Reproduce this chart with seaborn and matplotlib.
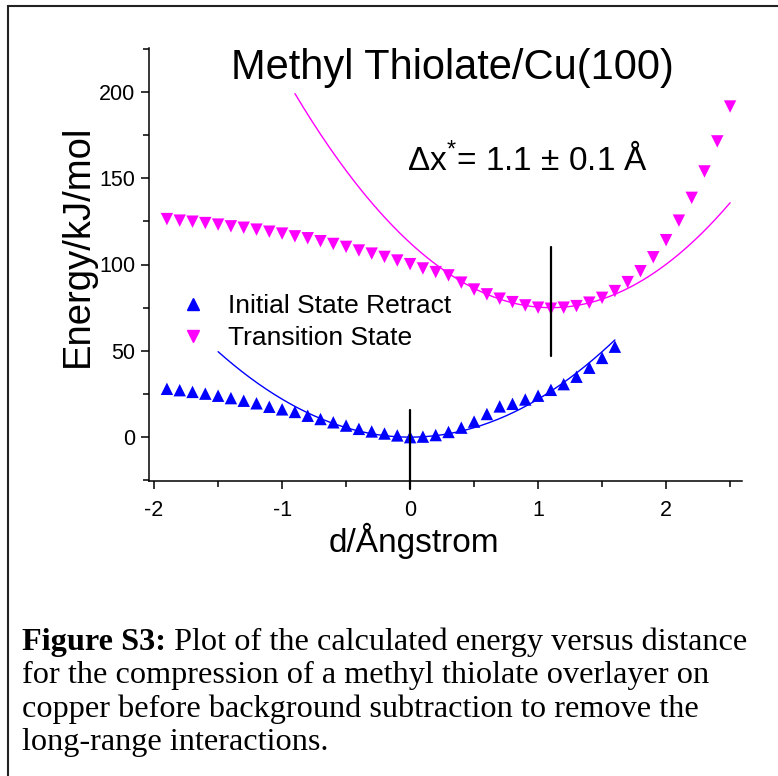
import numpy as np
import pandas as pd
import matplotlib
matplotlib.use("Agg")
import matplotlib.pyplot as plt
from matplotlib.lines import Line2D
from matplotlib.patches import Rectangle
import seaborn as sns

# ---------------- data ----------------
d_initial = [-1.9, -1.8, -1.7, -1.6, -1.5, -1.4, -1.3, -1.2, -1.1, -1.0, -0.9, -0.8,
             -0.7, -0.6, -0.5, -0.4, -0.3, -0.2, -0.1, 0.0, 0.1, 0.2, 0.3, 0.4,
             0.5, 0.6, 0.7, 0.8, 0.9, 1.0, 1.1, 1.2, 1.3, 1.4, 1.5, 1.6]
E_initial = [28.0, 27.2, 26.2, 25.2, 24.0, 22.6, 21.1, 19.6, 17.6, 16.1, 14.6, 12.4,
             10.5, 8.6, 6.7, 4.8, 3.3, 2.1, 1.0, 0.0, 0.3, 1.2, 3.0, 5.5,
             9.0, 13.4, 17.8, 19.3, 21.8, 24.0, 27.4, 30.7, 35.0, 40.2, 45.9, 52.4]

d_transition = [-1.9, -1.8, -1.7, -1.6, -1.5, -1.4, -1.3, -1.2, -1.1, -1.0, -0.9, -0.8,
                -0.7, -0.6, -0.5, -0.4, -0.3, -0.2, -0.1, 0.0, 0.1, 0.2, 0.3, 0.4,
                0.5, 0.6, 0.7, 0.8, 0.9, 1.0, 1.1, 1.2, 1.3, 1.4, 1.5, 1.6, 1.7,
                1.8, 1.9, 2.0, 2.1, 2.2, 2.3, 2.4, 2.5]
E_transition = [126.3, 125.4, 124.8, 124.0, 123.1, 122.1, 121.3, 120.2, 119.0, 117.9,
                116.3, 115.2, 113.5, 111.9, 110.2, 108.1, 106.3, 104.4, 102.3, 100.2,
                97.7, 95.6, 93.7, 89.5, 85.5, 82.7, 80.2, 78.2, 76.3, 75.0, 74.4,
                75.0, 75.9, 77.9, 80.7, 84.6, 89.8, 96.1, 104.2, 114.1, 125.4,
                138.6, 153.9, 171.3, 191.5]

series_names = ["Initial State Retract", "Transition State"]

# parabolic fits E = c + a (d - d0)^2 and their d ranges
fit_initial = dict(a=22.0, d0=0.0, c=0.0, d_range=(-1.5, 1.6))
fit_transition = dict(a=31.0, d0=1.1, c=75.0, d_range=(-0.9, 2.5))

# vertical marker bars: (d, E_low, E_high)
bar_initial = (0.0, -30.0, 15.5)
bar_transition = (1.1, 47.0, 110.0)

x_ticks = [-2, -1, 0, 1, 2]
y_ticks = [0, 50, 100, 150, 200]

title_text = "Methyl Thiolate/Cu(100)"
annot_text = "Δx$^{*}$= 1.1 ± 0.1 Å"
xlabel_text = "d/Ångstrom"
ylabel_text = "Energy/kJ/mol"
caption_bold = "Figure S3:"
caption_lines = [" Plot of the calculated energy versus distance",
                 "for the compression of a methyl thiolate overlayer on",
                 "copper before background subtraction to remove the",
                 "long-range interactions."]

# ---------------- style ----------------
sns.set_style("ticks")
plt.rcParams["font.family"] = ["Liberation Sans", "DejaVu Sans"]
plt.rcParams["text.color"] = "black"
plt.rcParams["axes.labelcolor"] = "black"
plt.rcParams["xtick.color"] = "black"
plt.rcParams["ytick.color"] = "black"
plt.rcParams["mathtext.fontset"] = "custom"
plt.rcParams["mathtext.rm"] = "Liberation Sans"
plt.rcParams["mathtext.it"] = "Liberation Sans"

colors = {"Initial State Retract": "#0000FF", "Transition State": "#FF00FF"}
markers = {"Initial State Retract": "^", "Transition State": "v"}

df = pd.concat([
    pd.DataFrame({"d": d_initial, "E": E_initial, "series": series_names[0]}),
    pd.DataFrame({"d": d_transition, "E": E_transition, "series": series_names[1]}),
], ignore_index=True)

W, H = 778, 776
fig = plt.figure(figsize=(W / 100, H / 100), dpi=100)
ax = fig.add_axes([149 / W, 1 - 481 / H, (742 - 149) / W, (481 - 48) / H])

sns.scatterplot(data=df, x="d", y="E", hue="series", style="series",
                palette=colors, markers=markers, s=80, linewidth=0,
                legend=False, ax=ax, zorder=3)

for fit, name in [(fit_initial, series_names[0]), (fit_transition, series_names[1])]:
    xs = np.linspace(fit["d_range"][0], fit["d_range"][1], 200)
    ys = fit["c"] + fit["a"] * (xs - fit["d0"]) ** 2
    sns.lineplot(x=xs, y=ys, color=colors[name], lw=1.0, ax=ax, zorder=2)

for bx, lo, hi in [bar_initial, bar_transition]:
    ax.plot([bx, bx], [lo, hi], color="black", lw=1.6, zorder=4, clip_on=False)

ax.set_xlim(-2.04, 2.593)
ax.set_ylim(-25.4, 225.4)
ax.set_xticks(x_ticks)
ax.set_xticklabels([str(t) for t in x_ticks])
ax.set_yticks(y_ticks)
ax.set_yticklabels([str(t) for t in y_ticks])
ax.set_xticks(np.arange(-1.5, 2.6, 1.0), minor=True)
ax.set_yticks([-25, 25, 75, 125, 175, 225], minor=True)
ax.tick_params(axis="both", which="major", direction="out", length=6, width=1.1,
               labelsize=15.5, colors="black", pad=4)
ax.tick_params(axis="x", which="major", pad=8)
ax.tick_params(axis="both", which="minor", direction="out", length=4, width=1.1,
               colors="black")
for s in ["top", "right"]:
    ax.spines[s].set_visible(False)
for s in ["left", "bottom"]:
    ax.spines[s].set_linewidth(1.1)
    ax.spines[s].set_color("black")

ax.set_xlabel(xlabel_text, fontsize=24)
ax.set_ylabel(ylabel_text, fontsize=27.5)
ax.xaxis.set_label_coords((414 - 149) / 593, -(541 - 481) / 433)
ax.xaxis.label.set_va("center")
ax.yaxis.set_label_coords(-(149 - 78) / 593, (481 - 246) / 433)
ax.yaxis.label.set_va("center")

handles = [Line2D([], [], ls="none", marker=markers[n], color=colors[n], markersize=9)
           for n in series_names]
ax.legend(handles, series_names, loc="center left",
          bbox_to_anchor=((180 - 149) / 593, (481 - 322) / 433),
          frameon=False, fontsize=19, handlelength=1.0, handletextpad=0.8,
          labelspacing=0.3, borderpad=0, borderaxespad=0)

fig.text(452 / W, 1 - 68 / H, title_text, fontsize=30, ha="center", va="center")
fig.text(407 / W, 1 - 160 / H, annot_text, fontsize=24, ha="left", va="center")

# caption
serif = ["Liberation Serif", "DejaVu Serif"]
cap_fs = 23.2
base0 = 650
t0 = fig.text(22 / W, 1 - base0 / H, caption_bold, fontsize=cap_fs, family=serif,
              fontweight="bold", ha="left", va="baseline")
renderer = fig.canvas.get_renderer()
bb = t0.get_window_extent(renderer=renderer)
fig.text(bb.x1 / W, 1 - base0 / H, caption_lines[0], fontsize=cap_fs, family=serif,
         ha="left", va="baseline")
for i, line in enumerate(caption_lines[1:], start=1):
    fig.text(22 / W, 1 - (base0 + 33.3 * i) / H, line, fontsize=cap_fs, family=serif,
             ha="left", va="baseline")

fig.patches.append(Rectangle((8 / W, -0.2), 1.5, 1 - 6 / H + 0.2, fill=False,
                             lw=1.5, edgecolor="#222222", transform=fig.transFigure,
                             figure=fig))

fig.savefig("out.png", dpi=100)
